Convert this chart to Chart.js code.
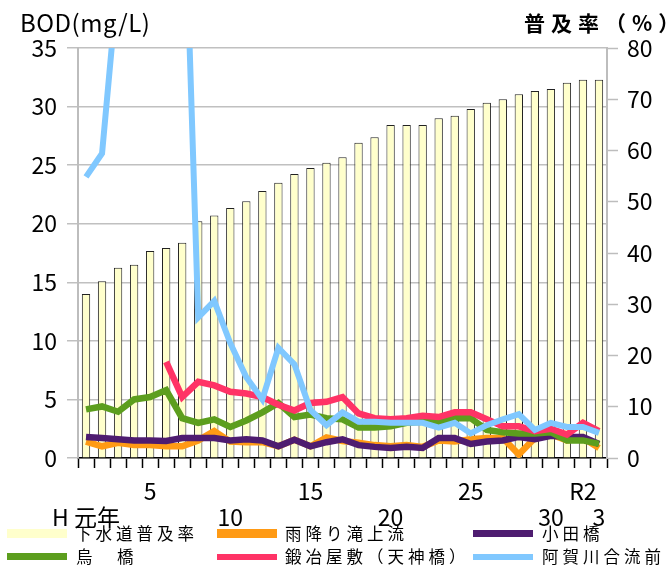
<!DOCTYPE html>
<html>
<head>
<meta charset="utf-8">
<script src="https://cdn.jsdelivr.net/npm/chart.js@4.4.1/dist/chart.umd.min.js"></script>
<style>
    body { margin: 0; background: #fff; }
    #wrap { position: relative; width: 670px; height: 565px; font-family: 'Noto Sans CJK JP', sans-serif; color: #000; }
    #chart { position: absolute; left: 0; top: 0; }
    .txt { position: absolute; white-space: nowrap; line-height: 1; }
    .sw { position: absolute; width: 60px; }
    .lg { position: absolute; white-space: nowrap; line-height: 1; font-size: 16.5px; letter-spacing: 4px; }
</style>
</head>
<body>
<div id="wrap">
    <canvas id="chart" width="670" height="565"></canvas>
    <div class="txt" style="left:20px;top:10px;font-size:24px;letter-spacing:0.5px;">BOD(mg/L)</div>
    <div class="txt" style="left:524px;top:12px;font-size:21px;font-weight:bold;letter-spacing:6px;">普及率（%）</div>
    <div id="legend"></div>
</div>
<script>
// years H1 .. H30, R1 .. R3
const years = ['H1','H2','H3','H4','H5','H6','H7','H8','H9','H10',
               'H11','H12','H13','H14','H15','H16','H17','H18','H19','H20',
               'H21','H22','H23','H24','H25','H26','H27','H28','H29','H30',
               'R1','R2','R3'];

// tick labels are staggered on two rows
const tickUpper = ['','','','','5','','','','','',
                   '','','','','15','','','','','',
                   '','','','','25','','','','','',
                   '','R2',''];
const tickLower = ['H 元年','','','','','','','','','10',
                   '','','','','','','','','','20',
                   '','','','','','','','','','30',
                   '','','3'];

// 下水道普及率 (%)
const coverage = [32.0, 34.5, 37.1, 37.7, 40.4, 41.0, 42.0, 46.2, 47.3, 48.8,
                  50.1, 52.1, 53.7, 55.4, 56.6, 57.6, 58.7, 61.5, 62.6, 65.0,
                  65.0, 65.0, 66.3, 66.8, 68.1, 69.3, 70.0, 71.0, 71.6, 72.0,
                  73.2, 73.8, 73.8];

// BOD (mg/L)
const amefuri = [1.4, 1.0, 1.3, 1.1, 1.1, 1.0, 1.0, 1.5, 2.3, 1.4,
                 1.35, 1.35, 1.0, 1.55, 1.0, 1.75, 1.45, 1.3, 1.1, 1.0,
                 1.1, 0.95, 1.5, 1.4, 1.6, 1.7, 1.7, 0.3, 1.7, 2.0,
                 1.5, 1.7, 0.85];
const odabashi = [1.8, 1.7, 1.6, 1.5, 1.5, 1.45, 1.7, 1.7, 1.7, 1.5,
                  1.6, 1.5, 1.0, 1.55, 1.0, 1.35, 1.6, 1.1, 0.95, 0.85,
                  0.95, 0.85, 1.7, 1.7, 1.2, 1.4, 1.5, 1.8, 1.6, 1.9,
                  1.8, 1.8, 1.2];
const karasu = [4.15, 4.4, 3.95, 5.0, 5.2, 5.8, 3.4, 3.0, 3.3, 2.65,
                3.2, 3.9, 4.7, 3.5, 3.7, 3.4, 3.3, 2.6, 2.6, 2.7,
                3.0, 3.1, 3.1, 3.4, 3.4, 2.4, 2.2, 2.1, 2.1, 2.2,
                1.5, 1.5, 1.2];
const kajiya = [null, null, null, null, null, 8.2, 5.2, 6.5, 6.2, 5.65,
                5.5, 5.2, 4.55, 4.05, 4.7, 4.8, 5.2, 3.8, 3.4, 3.3,
                3.4, 3.6, 3.5, 3.9, 3.9, 3.3, 2.7, 2.7, 2.3, 2.5,
                2.0, 3.0, 2.3];
// H3-H7 run off the top of the axis
const agagawa = [24.0, 26.0, 41.0, 60.0, 70.0, 65.0, 55.0, 12.0, 13.4, 9.8,
                 6.9, 5.0, 9.4, 8.0, 4.1, 2.8, 3.9, 3.1, 3.1, 3.0,
                 3.0, 3.0, 2.6, 3.0, 2.1, 2.8, 3.3, 3.75, 2.4, 3.0,
                 2.65, 2.65, 2.15];

const series = [
    { label: '下水道普及率',         color: '#FFFFCC', h: 9 },
    { label: '雨降り滝上流',         color: '#FF9A14', h: 9 },
    { label: '小田橋',               color: '#4E1C70', h: 7 },
    { label: '烏　橋',               color: '#5C9E1E', h: 7 },
    { label: '鍛冶屋敷（天神橋）',   color: '#FF3366', h: 6 },
    { label: '阿賀川合流前',         color: '#80C8FF', h: 6 }
];

Chart.defaults.font.family = "'Noto Sans CJK JP', sans-serif";
Chart.defaults.color = '#000';

function lineSet(idx, data, order, width) {
    return {
        type: 'line',
        label: series[idx].label,
        data: data,
        borderColor: series[idx].color,
        backgroundColor: series[idx].color,
        borderWidth: width,
        pointRadius: 0,
        tension: 0,
        clip: 0,
        yAxisID: 'y',
        order: order
    };
}

new Chart(document.getElementById('chart'), {
    type: 'bar',
    data: {
        labels: years,
        datasets: [
            lineSet(5, agagawa, 1, 6),
            lineSet(4, kajiya, 2, 6.5),
            lineSet(3, karasu, 3, 6.5),
            lineSet(2, odabashi, 4, 6.5),
            lineSet(1, amefuri, 5, 6.5),
            {
                type: 'bar',
                label: series[0].label,
                data: coverage,
                backgroundColor: series[0].color,
                borderColor: '#222',
                borderWidth: 1,
                barPercentage: 0.52,
                categoryPercentage: 1.0,
                yAxisID: 'y1',
                order: 6
            }
        ]
    },
    options: {
        responsive: false,
        animation: false,
        layout: { padding: { top: 48, left: 0, right: 0, bottom: 0 } },
        plugins: { legend: { display: false }, tooltip: { enabled: false } },
        scales: {
            x: {
                offset: true,
                grid: { drawOnChartArea: false, offset: true, tickLength: 10, tickColor: '#000', tickWidth: 1.5 },
                border: { color: '#000', width: 1.5 },
                ticks: {
                    autoSkip: false, maxRotation: 0, minRotation: 0, padding: 10,
                    font: { size: 23, lineHeight: '26px' },
                    callback: (v, i) => tickUpper[i] ? tickUpper[i] : (tickLower[i] ? ['', tickLower[i]] : '')
                },
                afterFit: s => { s.height = 107; }
            },
            y: {
                position: 'left',
                min: 0, max: 35,
                grid: {
                    color: '#C0C0C0', lineWidth: 1.5, tickLength: 11,
                    tickColor: c => (c.tick && c.tick.value % 5 === 0) ? '#C0C0C0' : 'rgba(0,0,0,0)'
                },
                border: { color: '#BDBDBD', width: 2 },
                ticks: {
                    stepSize: 2.5, padding: 10,
                    font: { size: 23 },
                    callback: v => v % 5 === 0 ? v : ''
                },
                afterFit: s => { s.width = 78; }
            },
            y1: {
                position: 'right',
                min: 0, max: 80,
                grid: { drawOnChartArea: false, tickLength: 11, tickColor: '#BDBDBD', tickWidth: 1.5 },
                border: { color: '#BDBDBD', width: 2 },
                ticks: { stepSize: 10, padding: 9, font: { size: 23 } },
                afterFit: s => { s.width = 63; }
            }
        }
    }
});

// legend: 3 columns x 2 rows
const legendPos = [
    { sx: 7,   tx: 75,  row: 0 },
    { sx: 217, tx: 285, row: 0 },
    { sx: 473, tx: 542, row: 0 },
    { sx: 7,   tx: 76,  row: 1 },
    { sx: 217, tx: 285, row: 1 },
    { sx: 473, tx: 542, row: 1 }
];
const rowY = [533.5, 556.5];
const legend = document.getElementById('legend');
series.forEach((s, i) => {
    const p = legendPos[i];
    const sw = document.createElement('div');
    sw.className = 'sw';
    sw.style.left = p.sx + 'px';
    sw.style.top = (rowY[p.row] - s.h / 2) + 'px';
    sw.style.height = s.h + 'px';
    sw.style.background = s.color;
    legend.appendChild(sw);
    const t = document.createElement('div');
    t.className = 'lg';
    t.style.left = p.tx + 'px';
    t.style.top = (rowY[p.row] - 9) + 'px';
    t.textContent = s.label;
    legend.appendChild(t);
});
</script>
</body>
</html>
